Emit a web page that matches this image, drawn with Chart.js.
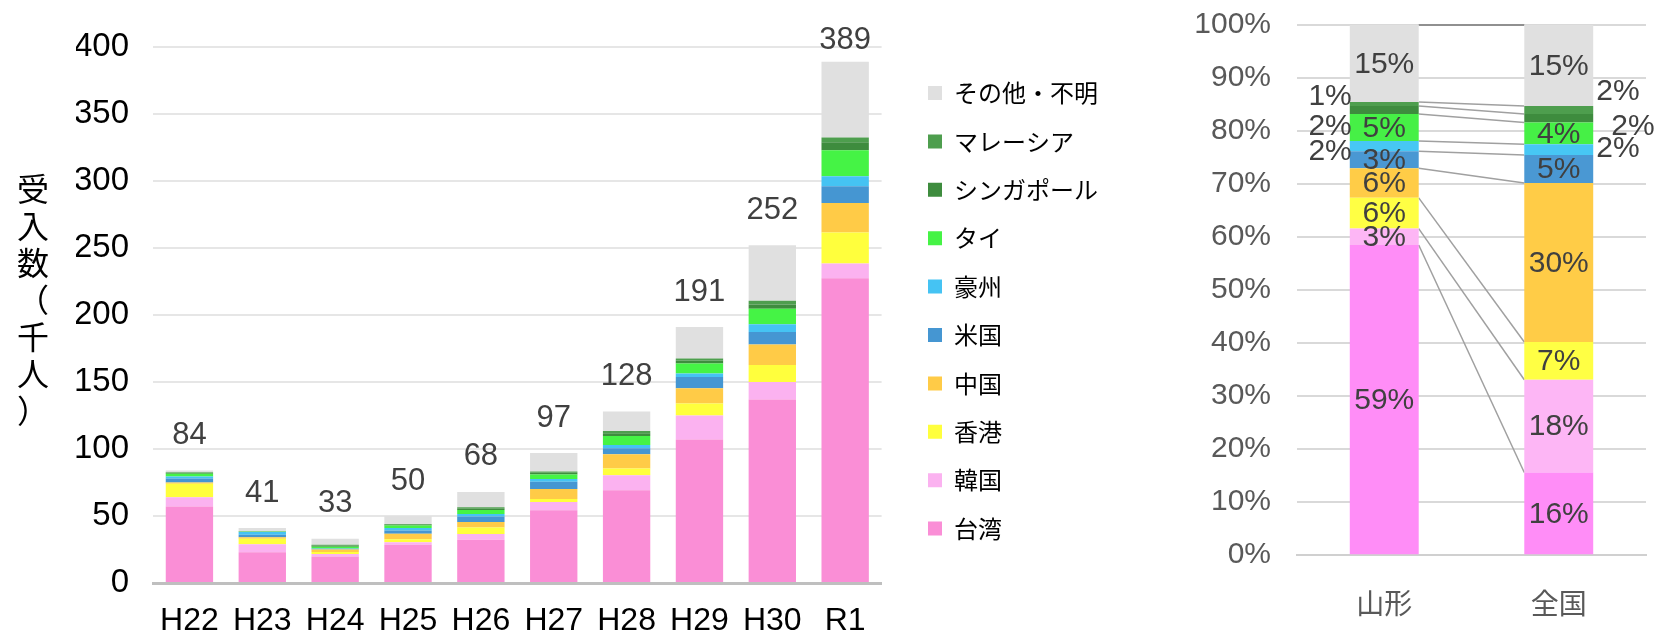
<!DOCTYPE html>
<html lang="ja">
<head>
<meta charset="utf-8">
<script src="https://cdn.jsdelivr.net/npm/chart.js@4.4.1/dist/chart.umd.min.js"></script>
<style>
  html, body { margin: 0; padding: 0; background: #fff; }
  #wrap { position: relative; width: 1657px; height: 636px; }
  #left { position: absolute; left: 0; top: 0; width: 1120px; height: 636px; }
  #right { position: absolute; left: 1120px; top: 0; width: 537px; height: 636px; }
</style>
</head>
<body>
<div id="wrap">
  <div id="left"><canvas id="trendChart"></canvas></div>
  <div id="right"><canvas id="shareChart"></canvas></div>
</div>
<script>
// 年度
const years = ['H22', 'H23', 'H24', 'H25', 'H26', 'H27', 'H28', 'H29', 'H30', 'R1'];
// 国・地域 (下から積み上げる順)
const regions = ['台湾', '韓国', '香港', '中国', '米国', '豪州', 'タイ', 'シンガポール', 'マレーシア', 'その他・不明'];

// 受入数 (千人)
const taiwan    = [57, 23, 19.7, 28.5, 32.2, 54.2, 69.2, 107, 137, 227.5];
const korea     = [7, 6, 2, 2, 4.3, 6.3, 11.2, 18, 13, 11];
const hongkong  = [10, 4, 1.5, 2.2, 5, 2.2, 5.1, 9, 12.6, 23];
const china     = [1, 1.2, 1.8, 4, 4, 7.5, 10.5, 11.3, 15.3, 22];
const usa       = [3, 1.8, 0.5, 2.5, 4.2, 5.3, 4.5, 8.5, 9.4, 12.5];
const australia = [1.5, 2, 0.3, 1.8, 1.8, 2.2, 2.4, 2.5, 5.8, 7.5];
const thailand  = [2, 0.3, 1.2, 2, 3, 3.3, 6.8, 7.5, 11.5, 19.5];
const singapore = [0.7, 0.2, 1, 0.5, 1, 1.2, 2, 2.2, 3.2, 6];
const malaysia  = [0.5, 0.2, 0.5, 0.5, 1, 1, 1.7, 1.5, 2.9, 3.5];
const others    = [1.3, 2.3, 4.5, 6, 11.5, 13.8, 14.6, 23.5, 41.3, 56.5];
const totals    = [84, 41, 33, 50, 68, 97, 128, 191, 252, 389];

// 構成比 (%) 山形 / 全国
const shareCats      = ['山形', '全国'];
const shareTaiwan    = [58.5, 15.6];
const shareKorea     = [3.1, 17.5];
const shareHongkong  = [5.8, 7.1];
const shareChina     = [5.6, 30.0];
const shareUsa       = [3.2, 5.3];
const shareAustralia = [1.9, 2.0];
const shareThailand  = [5.1, 4.1];
const shareSingapore = [1.5, 1.6];
const shareMalaysia  = [0.8, 1.5];
const shareOthers    = [14.5, 15.3];

const yTitle = '受入数（千人）';

const latin = '"Liberation Sans", Arial, sans-serif';
const cjk = '"Noto Sans CJK JP", "Liberation Sans", sans-serif';

const leftColors = ['#FA8ED6', '#FBB2F0', '#FFFF3D', '#FFCB47', '#4596D2', '#45C3F3', '#45F345', '#3E8C3E', '#4E9E4E', '#E0E0E0'];
const rightColors = ['#FF8DF7', '#FDB6F5', '#FFFF44', '#FFCC47', '#4A98D3', '#47C7F4', '#46F046', '#3E8C3E', '#4E9E4E', '#E0E0E0'];

// 外側に出すラベルのずらし量 [dx, dy] (山形, 全国)
const outsideNudge = {
  '豪州': [[0, 6], [0, -1]],
  'シンガポール': [[0, 17], [15, 8]],
  'マレーシア': [[0, -7], [0, -18]]
};

const yTitlePlugin = {
  id: 'yTitle',
  afterDraw(chart) {
    const { ctx, chartArea } = chart;
    const chars = Array.from(yTitle);
    const pitch = 37;
    const mid = (chartArea.top + chartArea.bottom) / 2 - 15;
    ctx.save();
    ctx.font = '32px ' + cjk;
    ctx.fillStyle = '#000';
    ctx.textAlign = 'center';
    ctx.textBaseline = 'middle';
    chars.forEach((c, i) => ctx.fillText(c, 33, mid + (i - (chars.length - 1) / 2) * pitch));
    ctx.restore();
  }
};

const totalsPlugin = {
  id: 'totals',
  afterDatasetsDraw(chart) {
    const { ctx } = chart;
    const topMeta = chart.getDatasetMeta(chart.data.datasets.length - 1);
    ctx.save();
    ctx.font = '31px ' + latin;
    ctx.fillStyle = '#404040';
    ctx.textAlign = 'center';
    ctx.textBaseline = 'middle';
    topMeta.data.forEach((bar, i) => {
      ctx.fillText(String(totals[i]), bar.x, Math.max(bar.y - 35, 40));
    });
    ctx.restore();
  }
};

const seriesLinesPlugin = {
  id: 'seriesLines',
  beforeDatasetsDraw(chart) {
    const { ctx } = chart;
    const last = chart.data.datasets.length - 1;
    ctx.save();
    chart.data.datasets.forEach((ds, d) => {
      const [a, b] = chart.getDatasetMeta(d).data;
      ctx.strokeStyle = d === last ? '#909090' : '#A0A0A0';
      ctx.lineWidth = d === last ? 2 : 1.5;
      ctx.beginPath();
      ctx.moveTo(a.x + a.width / 2, a.y);
      ctx.lineTo(b.x - b.width / 2, b.y);
      ctx.stroke();
    });
    ctx.restore();
  }
};

const shareLabelsPlugin = {
  id: 'shareLabels',
  afterDatasetsDraw(chart) {
    const { ctx } = chart;
    ctx.save();
    ctx.font = '30px ' + latin;
    ctx.fillStyle = '#404040';
    ctx.textBaseline = 'middle';
    chart.data.datasets.forEach((ds, d) => {
      chart.getDatasetMeta(d).data.forEach((bar, i) => {
        const text = Math.round(ds.data[i]) + '%';
        const cy = (bar.y + bar.base) / 2;
        const nudge = outsideNudge[ds.label];
        if (nudge) {
          const [dx, dy] = nudge[i];
          if (i === 0) {
            ctx.textAlign = 'right';
            ctx.fillText(text, bar.x - bar.width / 2 + 2 + dx, cy + dy);
          } else {
            ctx.textAlign = 'left';
            ctx.fillText(text, bar.x + bar.width / 2 + 3 + dx, cy + dy);
          }
        } else {
          ctx.textAlign = 'center';
          ctx.fillText(text, bar.x, cy + 1);
        }
      });
    });
    ctx.restore();
  }
};

const leftSeries = [taiwan, korea, hongkong, china, usa, australia, thailand, singapore, malaysia, others];
const rightSeries = [shareTaiwan, shareKorea, shareHongkong, shareChina, shareUsa, shareAustralia, shareThailand, shareSingapore, shareMalaysia, shareOthers];

new Chart(document.getElementById('trendChart'), {
  type: 'bar',
  data: {
    labels: years,
    datasets: regions.map((name, k) => ({
      label: name,
      data: leftSeries[k],
      backgroundColor: leftColors[k],
      borderWidth: 0,
      yAxisID: 'y',
      categoryPercentage: 0.65,
      barPercentage: 1
    }))
  },
  options: {
    responsive: true,
    maintainAspectRatio: false,
    animation: false,
    layout: { padding: { left: 76, top: 47, right: 12, bottom: 0 } },
    plugins: {
      legend: {
        position: 'right',
        align: 'start',
        reverse: true,
        maxWidth: 320,
        title: { display: true, text: '', font: { size: 8 }, padding: 0 },
        labels: {
          boxWidth: 14,
          boxHeight: 14,
          padding: 24.4,
          color: '#000',
          font: { family: cjk, size: 24 }
        }
      },
      tooltip: { enabled: false }
    },
    scales: {
      x: {
        stacked: true,
        grid: { display: false, drawTicks: false },
        border: { color: '#BFBFBF', width: 3 },
        ticks: { color: '#000', padding: 22, font: { family: latin, size: 32, lineHeight: 1 } },
        afterFit(scale) { scale.height = 53; }
      },
      y: {
        stacked: true,
        min: 0,
        max: 400,
        grid: { color: '#E6E6E6', lineWidth: 2, drawTicks: false },
        border: { display: false },
        ticks: { stepSize: 50, color: '#000', padding: 24, font: { family: latin, size: 33 } },
        afterFit(scale) { scale.width = 77; scale.paddingTop = 20; scale.paddingBottom = 20; }
      },
      y2: {
        position: 'right',
        grid: { display: false, drawTicks: false },
        border: { display: false },
        ticks: { display: false },
        afterFit(scale) { scale.width = 22; }
      }
    }
  },
  plugins: [yTitlePlugin, totalsPlugin]
});

new Chart(document.getElementById('shareChart'), {
  type: 'bar',
  data: {
    labels: shareCats,
    datasets: regions.map((name, k) => ({
      label: name,
      data: rightSeries[k],
      backgroundColor: rightColors[k],
      borderWidth: 0,
      categoryPercentage: 1,
      barPercentage: 0.395
    }))
  },
  options: {
    responsive: true,
    maintainAspectRatio: false,
    animation: false,
    layout: { padding: { left: 74, top: 25, right: 11, bottom: 16 } },
    plugins: {
      legend: { display: false },
      tooltip: { enabled: false }
    },
    scales: {
      x: {
        stacked: true,
        grid: { display: false, drawTicks: false },
        border: { color: '#D0D0D0', width: 2 },
        ticks: { color: '#595959', padding: 31, font: { family: cjk, size: 28 } },
        afterFit(scale) { scale.height = 64.8; }
      },
      y: {
        stacked: true,
        min: 0,
        max: 100,
        grid: { color: '#D9D9D9', lineWidth: 2, drawTicks: false },
        border: { display: false },
        ticks: { stepSize: 10, color: '#595959', padding: 26, font: { family: latin, size: 30 }, callback: v => v + '%' },
        afterFit(scale) { scale.width = 103; scale.paddingTop = 18; scale.paddingBottom = 18; }
      }
    }
  },
  plugins: [seriesLinesPlugin, shareLabelsPlugin]
});
</script>
</body>
</html>
